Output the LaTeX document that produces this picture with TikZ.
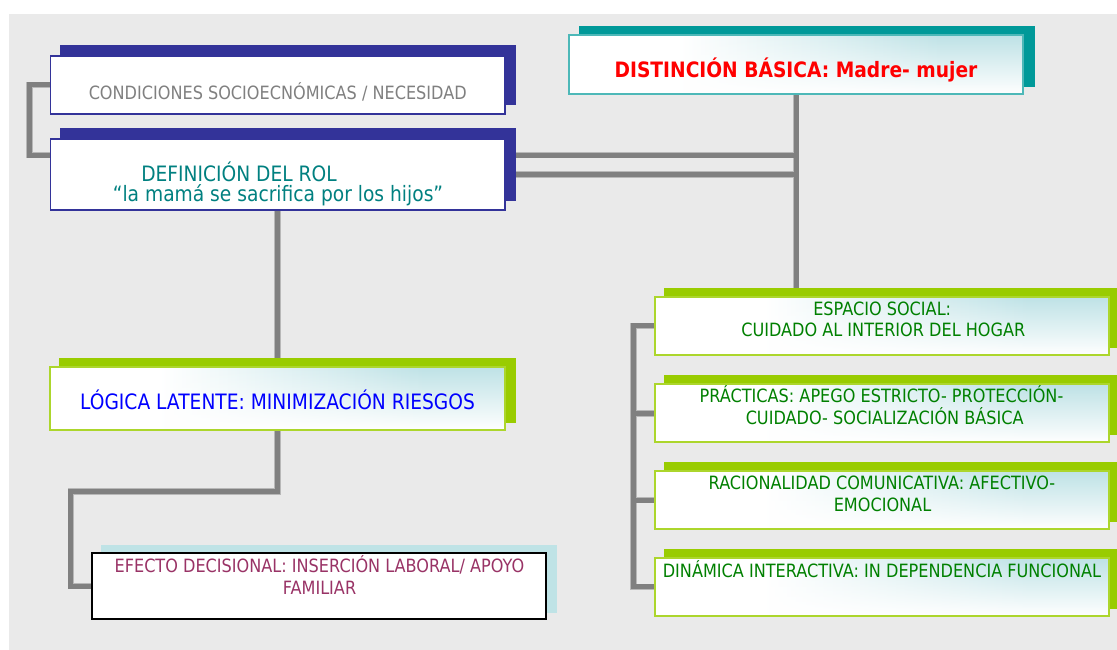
\documentclass[tikz,border=0pt]{standalone}
\usepackage{fontspec}
\newfontfamily\tah{DejaVu Sans}[FakeStretch=0.88]
\usetikzlibrary{calc,fadings}
\definecolor{bgc}{RGB}{234,234,234}
\definecolor{conncore}{RGB}{128,128,128}
\definecolor{connedge}{RGB}{184,184,184}
\definecolor{navy}{RGB}{51,51,153}
\definecolor{tealsh}{RGB}{0,153,153}
\definecolor{tealbd}{RGB}{77,184,184}
\definecolor{lime}{RGB}{153,204,0}
\definecolor{limebd}{RGB}{172,214,44}
\definecolor{cy}{RGB}{190,226,230}
\definecolor{effsh}{RGB}{191,227,230}
\definecolor{txgray}{RGB}{128,128,128}
\definecolor{txteal}{RGB}{0,128,128}
\definecolor{txred}{RGB}{255,0,0}
\definecolor{txblue}{RGB}{0,0,255}
\definecolor{txmaroon}{RGB}{153,51,102}
\definecolor{txgreen}{RGB}{0,128,0}
\pgfdeclarelayer{bgl}
\pgfdeclarelayer{connl}
\pgfdeclarelayer{shad}
\pgfsetlayers{bgl,connl,shad,main}
\pgfdeclarehorizontalshading{boxshade}{100bp}{color(0bp)=(white); color(37bp)=(white); color(66bp)=(cy); color(100bp)=(cy)}
\tikzfading[name=fadeup, top color=transparent!100, bottom color=transparent!0]
\tikzset{
  box/.style={rectangle, inner sep=0pt},
  plainbox/.style={box, fill=white, draw=navy, line width=1.5pt},
  gradbox/.style={box, shading=boxshade, path picture={\fill[white, path fading=fadeup] (path picture bounding box.south west) rectangle (path picture bounding box.north east);}},
  rbox/.style={gradbox, draw=limebd, line width=2pt, minimum width=454pt, minimum height=58.3pt},
  txt/.style={inner sep=0pt, anchor=base},
  small/.style={font=\tah\fontsize{18.3pt}{21.5pt}\selectfont},
  big/.style={font=\tah\fontsize{21.2pt}{24pt}\selectfont},
  bigbold/.style={font=\tah\bfseries\fontsize{21.2pt}{24pt}\selectfont},
  cedge/.style={draw=connedge, line width=6.6pt, line join=miter},
  ccore/.style={draw=conncore, line width=5pt, line join=miter}
}
\newcommand\myconns[1]{%
  \draw[#1] (b1.west) -- ++(-20.5,0) |- ([yshift=19.3pt]b2.west);
  \draw[#1] ([yshift=19.3pt]b2.east) -- ([yshift=19.3pt]b2.east -| b3.south);
  \draw[#1] (b2.east) -- (b2.east -| b3.south);
  \draw[#1] (b3.south) -- (b3.south |- r1.north);
  \draw[#1] (b2.south) -- (b2.south |- b4.north);
  \draw[#1] (b4.south) -- ($(b4.south)!0.5!(b4.south |- b5.north)$) -| ([xshift=-20.5pt]b5.west) -- (b5.west);
  \draw[#1] (r1.west) -- ++(-20.5,0) |- (r4.west);
  \draw[#1] (r2.west) -- ++(-20.5,0);
  \draw[#1] (r3.west) -- ++(-20.5,0);
}
\newcommand\shadowof[3]{%
  \fill[#1] ([shift={#3}]#2.south west) rectangle ([shift={#3}]#2.north east);
}
\begin{document}
\begin{tikzpicture}[x=1pt,y=-1pt]
\useasboundingbox (0,0) rectangle (1117,650);
\begin{pgfonlayer}{bgl}
  \fill[white] (0,0) rectangle (1117,650);
  \fill[bgc] (8.5,14) rectangle (1117,650);
\end{pgfonlayer}

% boxes
\node[plainbox, minimum width=454.5pt, minimum height=58pt] (b1) at (277.75,85) {};
\node[plainbox, minimum width=454.5pt, minimum height=71pt] (b2) at (277.75,174.5) {};
\node[gradbox, draw=tealbd, line width=1.5pt, minimum width=454pt, minimum height=59pt] (b3) at (796,64.5) {};
\node[gradbox, draw=limebd, line width=2pt, minimum width=455pt, minimum height=63pt] (b4) at (277.5,398.5) {};
\node[box, fill=white, draw=black, line width=1.8pt, minimum width=454pt, minimum height=65.5pt] (b5) at (319.2,586) {};
\node[rbox] (r1) at (882.2,325.8) {};
\node[rbox] (r2) at (882.2,413.2) {};
\node[rbox] (r3) at (882.2,500) {};
\node[rbox] (r4) at (882.2,586.8) {};

% shadows
\begin{pgfonlayer}{shad}
  \shadowof{navy}{b1}{(10,-10)}
  \shadowof{navy}{b2}{(10,-10)}
  \shadowof{tealsh}{b3}{(11,-8)}
  \shadowof{lime}{b4}{(10,-8)}
  \shadowof{effsh}{b5}{(10,-7)}
  \shadowof{lime}{r1}{(10,-8)}
  \shadowof{lime}{r2}{(10,-8)}
  \shadowof{lime}{r3}{(10,-8)}
  \shadowof{lime}{r4}{(10,-8)}
\end{pgfonlayer}

% connectors
\begin{pgfonlayer}{connl}
  \myconns{cedge}
  \myconns{ccore}
\end{pgfonlayer}

% texts
\node[txt, small, text=txgray] (t1) at (277.75,99.3) {CONDICIONES SOCIOECNÓMICAS / NECESIDAD};
\node[txt, big, text=txteal] (t2a) at (239,181.7) {DEFINICIÓN DEL ROL};
\node[txt, big, text=txteal] (t2b) at (278,201.7) {“la mamá se sacrifica por los hijos”};
\node[txt, bigbold, text=txred] (t3) at (796,77.3) {DISTINCIÓN BÁSICA: Madre- mujer};
\node[txt, big, text=txblue] (t4) at (277.5,409) {LÓGICA LATENTE: MINIMIZACIÓN RIESGOS};
\node[txt, small, text=txmaroon] (t5a) at (319.5,572.3) {EFECTO DECISIONAL: INSERCIÓN LABORAL/ APOYO};
\node[txt, small, text=txmaroon] (t5b) at (319.5,594) {FAMILIAR};
\node[txt, small, text=txgreen] (t6a) at (882.2,315.7) {ESPACIO SOCIAL:};
\node[txt, small, text=txgreen] (t6b) at (883.3,336.7) {CUIDADO AL INTERIOR DEL HOGAR};
\node[txt, small, text=txgreen] (t7a) at (881.5,402.7) {PRÁCTICAS: APEGO ESTRICTO- PROTECCIÓN-};
\node[txt, small, text=txgreen] (t7b) at (884.7,424) {CUIDADO- SOCIALIZACIÓN BÁSICA};
\node[txt, small, text=txgreen] (t8a) at (882,489.3) {RACIONALIDAD COMUNICATIVA: AFECTIVO-};
\node[txt, small, text=txgreen] (t8b) at (882.5,511.7) {EMOCIONAL};
\node[txt, small, text=txgreen] (t9) at (882,577.7) {DINÁMICA INTERACTIVA: IN DEPENDENCIA FUNCIONAL};
\end{tikzpicture}
\end{document}
